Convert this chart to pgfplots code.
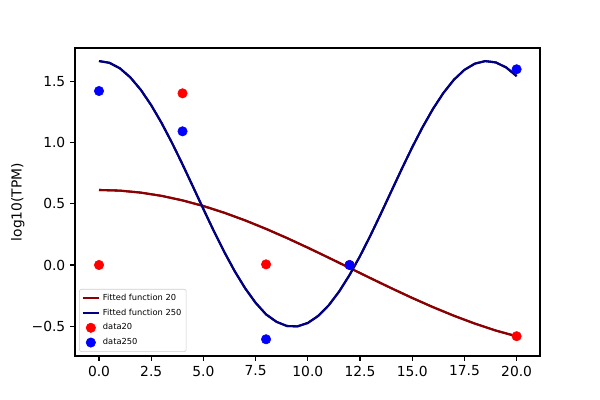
\documentclass[border=0pt]{standalone}
\usepackage{pgfplots}
\pgfplotsset{compat=1.18}
\usepackage{fontspec}
\setmainfont{DejaVu Sans}
\definecolor{mdarkred}{HTML}{8B0000}
\definecolor{mnavy}{HTML}{000080}
\definecolor{mred}{HTML}{FF0000}
\definecolor{mblue}{HTML}{0000FF}
\pgfplotsset{
  linelegend/.style={legend image code/.code={\draw[##1] (0pt,0pt) -- (12pt,0pt);}},
  marklegend/.style={legend image code/.code={\draw[##1,mark repeat=2,mark phase=2] plot coordinates {(0pt,0pt) (6pt,0pt) (12pt,0pt)};}},
}
\begin{document}
\begin{tikzpicture}
\path[use as bounding box] (0,0) rectangle (6in,4in);
\begin{axis}[
  at={(0.75in,0.44in)}, anchor=south west,
  scale only axis, width=4.65in, height=3.08in,
  xmin=-1.15, xmax=21.12, ymin=-0.745, ymax=1.776,
  axis line style={black, line width=0.8pt},
  tick align=outside, major tick length=3.5pt,
  tick style={black, line width=0.8pt},
  xtick={0,2.5,5,7.5,10,12.5,15,17.5,20},
  xticklabels={0.0,2.5,5.0,7.5,10.0,12.5,15.0,17.5,20.0},
  ytick={-0.5,0,0.5,1,1.5},
  yticklabels={−0.5,0.0,0.5,1.0,1.5},
  xtick pos=bottom, ytick pos=left,
  tick label style={font=\fontsize{10}{12}\selectfont},
  ylabel={log10(TPM)},
  ylabel style={font=\fontsize{10}{12}\selectfont, at={(axis description cs:-0.123,0.5)}, anchor=center, rotate=0},
  legend cell align=left,
  legend style={at={(0,0)}, anchor=south west, xshift=3pt, yshift=3pt,
    font=\fontsize{6}{7}\selectfont, draw=black!20, rounded corners=1.5pt,
    fill=white, inner xsep=1.5pt, inner ysep=1.5pt, row sep=0.6pt},
]
\addplot[mdarkred, line width=1.5pt, linelegend] coordinates {
(0,0.614) (1,0.6086) (2,0.5923) (3,0.5656) (4,0.5287) (5,0.4825) (6,0.4275) (7,0.3649)
(8,0.2955) (9,0.2207) (10,0.1415) (11,0.0595) (12,-0.0240) (13,-0.1077) (14,-0.1901)
(15,-0.2698) (16,-0.3454) (17,-0.4157) (18,-0.4797) (19,-0.5366) (20,-0.5837)};
\addlegendentry{Fitted function 20}
\addplot[mnavy, line width=1.5pt, linelegend] coordinates {
(0,1.669) (0.5,1.6547) (1,1.6097) (1.5,1.5354) (2,1.4339) (2.5,1.3079) (3,1.1613)
(3.5,0.9981) (4,0.8231) (4.5,0.6410) (5,0.4573) (5.5,0.2771) (6,0.1061) (6.5,-0.0513)
(7,-0.1911) (7.5,-0.3097) (8,-0.4043) (8.5,-0.4653) (9,-0.4994) (9.5,-0.5025)
(10,-0.4747) (10.5,-0.4167) (11,-0.3302) (11.5,-0.2174) (12,-0.0817) (12.5,0.0726)
(13,0.2414) (13.5,0.4203) (14,0.6036) (14.5,0.7863) (15,0.9634) (15.5,1.1290)
(16,1.2791) (16.5,1.4096) (17,1.5169) (17.5,1.5970) (18,1.6480) (18.5,1.6686)
(19,1.6581) (19.5,1.6169) (20,1.5461)};
\addlegendentry{Fitted function 250}
\addplot[only marks, mark=*, mark size=3.4pt, color=mred, marklegend] coordinates {
(0,0) (4,1.405) (8,0.005) (12,0) (20,-0.583)};
\addlegendentry{data20}
\addplot[only marks, mark=*, mark size=3.4pt, color=mblue, marklegend] coordinates {
(0,1.424) (4,1.094) (8,-0.608) (12,0) (20,1.602)};
\addlegendentry{data250}
% redraw lines on top of the markers
\addplot[mdarkred, line width=1.5pt, forget plot] coordinates {
(0,0.614) (1,0.6086) (2,0.5923) (3,0.5656) (4,0.5287) (5,0.4825) (6,0.4275) (7,0.3649)
(8,0.2955) (9,0.2207) (10,0.1415) (11,0.0595) (12,-0.0240) (13,-0.1077) (14,-0.1901)
(15,-0.2698) (16,-0.3454) (17,-0.4157) (18,-0.4797) (19,-0.5366) (20,-0.5837)};
\addplot[mnavy, line width=1.5pt, forget plot] coordinates {
(0,1.669) (0.5,1.6547) (1,1.6097) (1.5,1.5354) (2,1.4339) (2.5,1.3079) (3,1.1613)
(3.5,0.9981) (4,0.8231) (4.5,0.6410) (5,0.4573) (5.5,0.2771) (6,0.1061) (6.5,-0.0513)
(7,-0.1911) (7.5,-0.3097) (8,-0.4043) (8.5,-0.4653) (9,-0.4994) (9.5,-0.5025)
(10,-0.4747) (10.5,-0.4167) (11,-0.3302) (11.5,-0.2174) (12,-0.0817) (12.5,0.0726)
(13,0.2414) (13.5,0.4203) (14,0.6036) (14.5,0.7863) (15,0.9634) (15.5,1.1290)
(16,1.2791) (16.5,1.4096) (17,1.5169) (17.5,1.5970) (18,1.6480) (18.5,1.6686)
(19,1.6581) (19.5,1.6169) (20,1.5461)};
\end{axis}
\end{tikzpicture}
\end{document}
